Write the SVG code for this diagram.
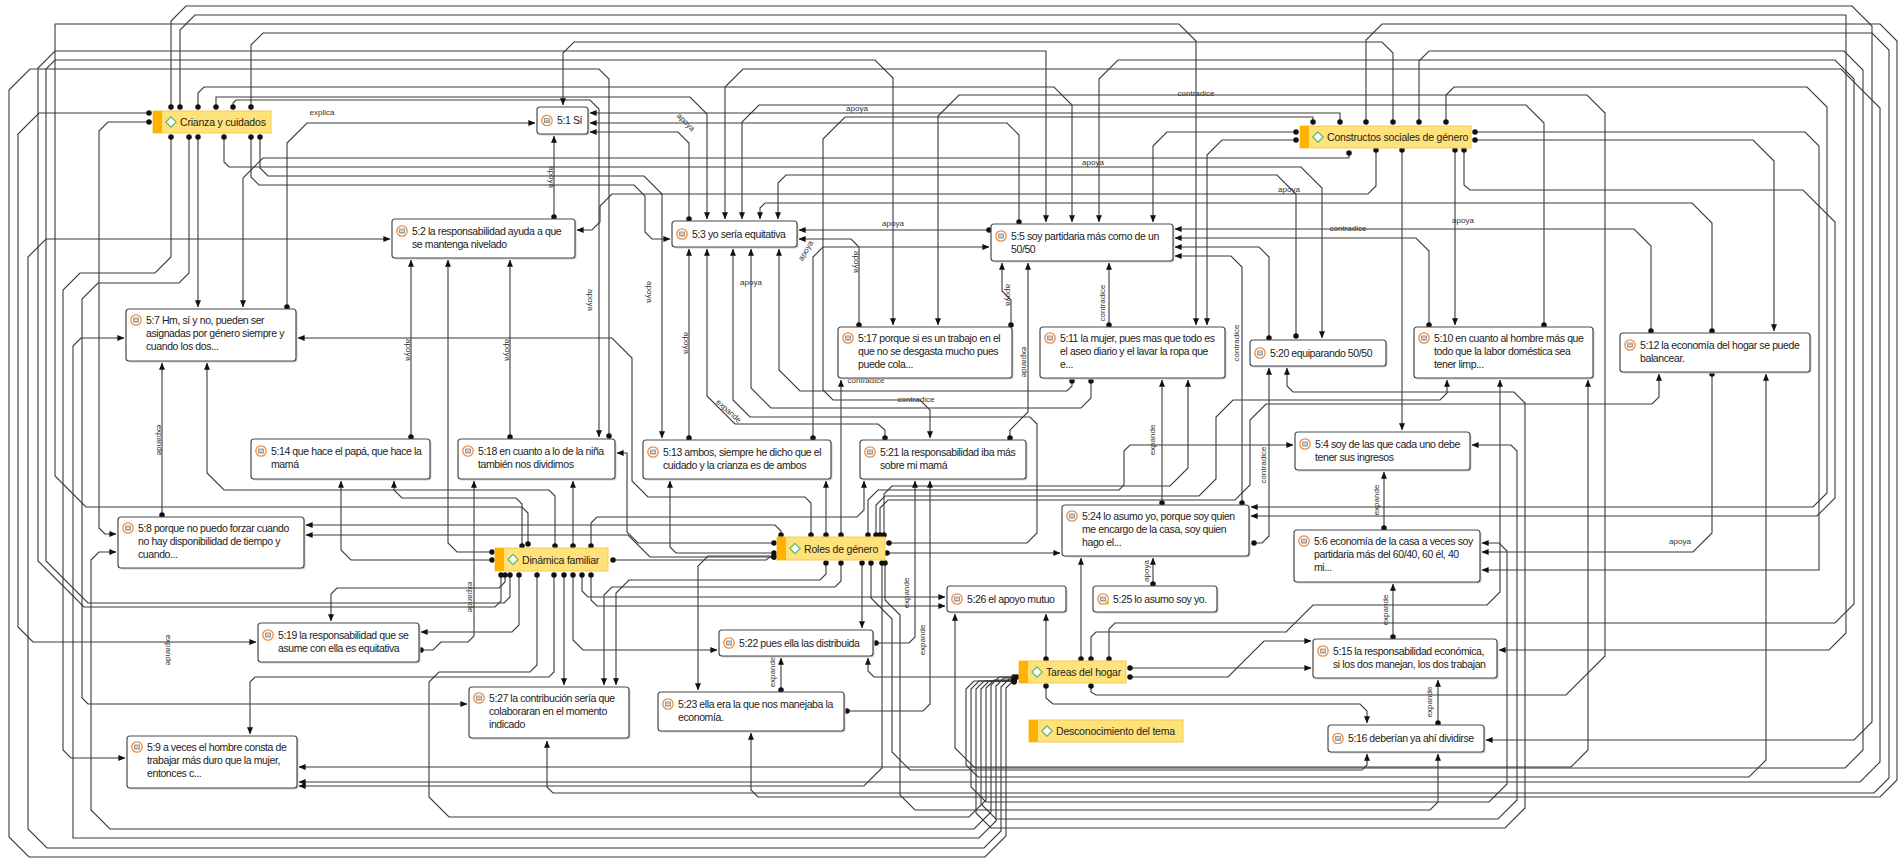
<svg xmlns="http://www.w3.org/2000/svg" width="1904" height="859" viewBox="0 0 1904 859">
<style>
.c{fill:none;stroke:#3a3a3a;stroke-width:1.1}
.da{marker-start:url(#dot);marker-end:url(#arr)}
.dd{marker-start:url(#dot);marker-end:url(#dot)}
.aa{marker-start:url(#arrS);marker-end:url(#arr)}
.b{fill:#fff;stroke:#4a4a4a;stroke-width:1.2}
.sh{fill:#cfcfcf}
.cb{fill:#FFE27A;stroke:#F3CB55;stroke-width:1}
.cbar{fill:#FFB300}
.t{font-family:"Liberation Sans",Arial,sans-serif;font-size:10.5px;fill:#222;letter-spacing:-0.4px}
.ct{font-family:"Liberation Sans",Arial,sans-serif;font-size:10.5px;fill:#222;letter-spacing:-0.2px}
.lb{font-family:"Liberation Sans",Arial,sans-serif;font-size:8px;fill:#333}
</style>
<defs>
<marker id="arr" viewBox="0 0 8 8" refX="7.6" refY="4" markerWidth="7" markerHeight="7" orient="auto" markerUnits="userSpaceOnUse"><path d="M0,0.6 L8,4 L0,7.4z" fill="#111"/></marker>
<marker id="arrS" viewBox="0 0 8 8" refX="7.6" refY="4" markerWidth="7" markerHeight="7" orient="auto-start-reverse" markerUnits="userSpaceOnUse"><path d="M0,0.6 L8,4 L0,7.4z" fill="#111"/></marker>
<marker id="dot" viewBox="0 0 6 6" refX="3" refY="3" markerWidth="5.5" markerHeight="5.5" markerUnits="userSpaceOnUse"><circle cx="3" cy="3" r="3" fill="#111"/></marker>
<symbol id="qi" viewBox="0 0 12 12"><circle cx="6" cy="6" r="5.2" fill="#fff" stroke="#EE8A3C" stroke-width="1.3"/><rect x="3" y="3.6" width="6" height="4.8" rx="0.6" fill="#9a9a9a"/><path d="M4,5H8M4,6.5H8" stroke="#fff" stroke-width="0.7"/></symbol>
<symbol id="di" viewBox="0 0 12 12"><path d="M6,0.8 L11.2,6 L6,11.2 L0.8,6Z" fill="#fff" stroke="#5cb85c" stroke-width="1.2"/></symbol>
</defs>
<rect width="1904" height="859" fill="#fff"/>

<g id="connectors">
<path class="c da" d="M171,107 V21 L186,6 H1852 L1872,26 V722 L1854,740 H1486"/>
<path class="c da" d="M180,107 V30 L195,15 H1846 V633 L1829,650 H1499"/>
<path class="c da" d="M528,544 V513 L522,507 H86 L55,476 V24 H1179 L1196,41 V325"/>
<path class="c da" d="M251,107 V45 L263,33 H1872 L1889,50 V778 L1874,793 H553 L547,787 V741"/>
<path class="c da" d="M198,107 V93 L204,87 H1054 L1072,105 V222"/>
<path class="c da" d="M216,107 V97 H690 L707,114 V219"/>
<path class="c da" d="M233,107 V103 L236,100 H590 L599,109 V437"/>
<path class="c dd" d="M1014,682 H1012 L1006,688 V836 L985,857 H29 L9,837 V90 L30,69 H599 L609,79 V436"/>
<path class="c da" d="M1393,122 V53 L1382,42 H574 L563,53 V105"/>
<path class="c da" d="M1366,122 V40 L1382,24 H1880 L1897,41 V780 L1880,797 H758 L751,790 V733"/>
<path class="c da" d="M1014,679 H1009 L1001,687 V831 L984,848 H47 L28,829 V257 L46,239 H390"/>
<path class="c da" d="M1014,678 H1004 L996,686 V821 L979,838 H73 V346 L81,338 H124"/>
<path class="c da" d="M1014,677 H999 L991,685 V812 L974,829 H110 L91,810 V560 L99,552 H116"/>
<path class="c da" d="M149,113 H39 L18,134 V627 L33,642 H256"/>
<path class="c da" d="M501,575 V601 L495,607 H84 L38,561 V68 L55,51 H1046 V222"/>
<path class="c da" d="M510,575 V597 L504,603 H88 L46,561 V69 L55,60 H875 L893,78 V325"/>
<path class="c da" d="M171,137 V257 L155,273 H80 L63,290 V750 L71,758 H125"/>
<path class="c da" d="M189,137 V273 L179,283 H98 L82,299 V698 L88,704 H467"/>
<path class="c da" d="M149,122 H108 L99,131 V528 L105,534 H116"/>
<path class="c dd" d="M613,560 H766 L770,557 H774"/>
<path class="c da" d="M198,137 V307"/>
<path class="c da" d="M260,137 V168 L268,176 H644 L662,194 V438"/>
<path class="c da" d="M251,137 V177 L259,185 H634 L645,196 V232 L652,239 H670"/>
<path class="c da" d="M224,137 V162 L229,167 H1301 L1322,188 V338"/>
<path class="c da" d="M1349,153 V158 H263 L243,178 V307"/>
<path class="c da" d="M1296,336 V194 L1277,175 H786 L778,183 V219"/>
<path class="c da" d="M287,307 V143 L307,123 H535"/>
<path class="c da" d="M162,515 V363"/>
<path class="c da" d="M555,546 V496 L549,490 H224 L207,473 V363"/>
<path class="c da" d="M554,217 V136"/>
<path class="c da" d="M689,219 V143 L678,132 H590"/>
<path class="c da" d="M1019,222 V135 L1007,123 H590"/>
<path class="c da" d="M1340,122 V113 H590"/>
<path class="c da" d="M1313,122 V117 H845 L823,139 V390 L833,400 H920 L930,410 V438"/>
<path class="c da" d="M689,438 V249"/>
<path class="c da" d="M885,438 V430 L878,424 H735 L707,396 V249"/>
<path class="c da" d="M889,543 H1027 L1037,533 V424 L1030,417 H750 L733,400 V249"/>
<path class="c da" d="M1091,381 V398 L1081,408 H771 L751,388 V249"/>
<path class="c da" d="M1072,381 V386 L1067,391 H800 L779,370 V249"/>
<path class="c aa" d="M725,219 V87 L743,69 H1841 L1880,108 V762 L1860,782 H299"/>
<path class="c da" d="M989,230 H799"/>
<path class="c da" d="M859,325 V247 L851,239 H799"/>
<path class="c da" d="M813,438 V257 L823,247 H989"/>
<path class="c da" d="M1651,331 V246 L1634,229 H1175"/>
<path class="c da" d="M1429,325 V251 L1416,238 H1175"/>
<path class="c da" d="M1242,503 V267 L1231,256 H1175"/>
<path class="c da" d="M1269,338 V257 L1259,247 H1175"/>
<path class="c da" d="M1109,659 V629 L1115,623 H1835 L1854,604 V79 L1835,60 H1118 L1099,79 V222"/>
<path class="c da" d="M1296,132 H1167 L1153,146 V222"/>
<path class="c da" d="M1455,150 V325"/>
<path class="c da" d="M1544,325 V123 L1526,105 H759 L742,122 V219"/>
<path class="c da" d="M1464,150 V185 L1470,190 H1803 L1835,222 V498 L1817,516 H1251"/>
<path class="c da" d="M1446,122 V95 L1454,87 H1807 L1827,107 V493 L1813,507 H1251"/>
<path class="c da" d="M1419,122 V61 L1429,51 H1844 L1863,70 V750 L1845,768 H975 L955,748 V614"/>
<path class="c da" d="M1475,132 H1805 L1819,146 V570 H1482"/>
<path class="c da" d="M1402,150 V430"/>
<path class="c da" d="M1296,140 H1222 L1207,155 V325"/>
<path class="c da" d="M1109,325 V263"/>
<path class="c da" d="M1010,438 V430 L1028,412 V263"/>
<path class="c da" d="M1011,325 V300 L1002,291 V263"/>
<path class="c da" d="M1712,331 V223 L1692,203 H765 L760,208 V219"/>
<path class="c da" d="M1475,140 H1753 L1774,161 V331"/>
<path class="c da" d="M1376,150 V186 L1368,194 H612 L600,206 V222 L592,230 H577"/>
<path class="c da" d="M1384,528 V472"/>
<path class="c da" d="M1393,637 V584"/>
<path class="c da" d="M1438,723 V680"/>
<path class="c da" d="M1046,686 V698 L1053,704 H1360 L1367,711 V723"/>
<path class="c da" d="M1712,374 V533 L1693,552 H1482"/>
<path class="c da" d="M1254,543 H1262 L1269,536 V368"/>
<path class="c da" d="M1162,503 V380"/>
<path class="c da" d="M1153,584 V558"/>
<path class="c da" d="M1081,659 V558"/>
<path class="c da" d="M1046,659 V614"/>
<path class="c da" d="M1130,668 H1311"/>
<path class="c da" d="M1130,677 H1228 L1264,641 H1311"/>
<path class="c da" d="M1091,659 V637 L1096,632 H1286 L1313,605 H1487 L1500,592 V380"/>
<path class="c da" d="M1091,686 V692 L1096,695 H1566 L1605,656 V113 L1587,95 H959 L938,116 V325"/>
<path class="c da" d="M1014,681 H989 L981,689 V804 L996,819 H1498 L1517,800 V451 L1511,445 H1472"/>
<path class="c da" d="M1014,681 H984 L976,689 V813 L991,828 H1505 L1525,808 V403 L1514,392 H1293 L1287,386 V368"/>
<path class="c da" d="M1014,681 H979 L971,689 V787 L986,802 H1489 L1507,784 V551 L1499,543 H1482"/>
<path class="c da" d="M1014,681 H974 L966,689 V765 L978,777 H1749 L1766,760 V374"/>
<path class="c aa" d="M1588,380 V750 L1571,767 H299"/>
<path class="c da" d="M882,563 V768 L864,786 H299"/>
<path class="c da" d="M871,563 V598 L892,619 V752 L910,770 H1362 L1367,765 V754"/>
<path class="c da" d="M885,563 V600 L900,615 V795 L915,810 H1430 L1438,802 V754"/>
<path class="c da" d="M826,563 V574 L820,580 H629 L616,593 V685"/>
<path class="c da" d="M841,563 V581 L835,587 H612 L604,595 V685"/>
<path class="c da" d="M841,535 V380"/>
<path class="c da" d="M826,535 V481"/>
<path class="c da" d="M774,543 H638 L627,532 V453 H617"/>
<path class="c da" d="M811,535 V503 L805,497 H648 L632,481 V358 L612,338 H298"/>
<path class="c da" d="M781,535 V531 L775,525 H306"/>
<path class="c da" d="M774,557 H650 L628,535 H306"/>
<path class="c da" d="M774,553 H676 L670,547 V481"/>
<path class="c da" d="M591,546 V523 L597,517 H857 L864,510 V481"/>
<path class="c da" d="M868,535 V500 L878,490 H1119 L1124,485 V451 L1130,445 H1293"/>
<path class="c da" d="M876,535 V505 L885,496 H1199 L1216,479 V417 L1233,400 H1440 L1447,393 V380"/>
<path class="c da" d="M880,535 V508 L888,500 H1235 L1250,485 V420 L1266,404 H1652 L1659,397 V374"/>
<path class="c da" d="M884,535 V494 L892,486 H1170 L1188,468 V380"/>
<path class="c da" d="M887,553 H1060"/>
<path class="c da" d="M774,556 H708 L698,566 V690"/>
<path class="c da" d="M862,563 V628"/>
<path class="c da" d="M1017,677 H874 L868,671 V658"/>
<path class="c da" d="M876,643 H909 L915,637 V481"/>
<path class="c da" d="M847,711 H923 L930,704 V481"/>
<path class="c da" d="M781,690 V658"/>
<path class="c da" d="M573,546 V481"/>
<path class="c da" d="M492,560 H351 L341,550 V481"/>
<path class="c da" d="M522,546 V504 L516,498 H402 L394,490 V481"/>
<path class="c da" d="M492,552 H457 L448,543 V260"/>
<path class="c da" d="M411,437 V260"/>
<path class="c da" d="M510,437 V260"/>
<path class="c da" d="M519,575 V625 L512,632 H421"/>
<path class="c da" d="M421,650 H433 L441,642 H468 L474,636 V481"/>
<path class="c da" d="M554,575 V672 L549,677 H255 L250,682 V734"/>
<path class="c da" d="M564,575 V685"/>
<path class="c dd" d="M1014,680 H994 L986,688 V800 L969,817 H449 L429,797 V682 L439,672 H530 L537,665 V575"/>
<path class="c da" d="M573,575 V640 L583,650 H717"/>
<path class="c da" d="M582,575 V591 L588,597 H945"/>
<path class="c da" d="M591,575 V600 L597,606 H945"/>
<path class="c da" d="M505,575 V582 L499,588 H337 L331,594 V621"/>
</g>

<g id="labels">
<text class="lb" x="322" y="115" text-anchor="middle">explica</text>
<text class="lb" transform="rotate(90 549 177)" x="549" y="177" text-anchor="middle">apoya</text>
<text class="lb" transform="rotate(45 684 124)" x="684" y="124" text-anchor="middle">apoya</text>
<text class="lb" x="857" y="111" text-anchor="middle">apoya</text>
<text class="lb" x="893" y="226" text-anchor="middle">apoya</text>
<text class="lb" transform="rotate(-60 808 252)" x="808" y="252" text-anchor="middle">apoya</text>
<text class="lb" transform="rotate(90 854 262)" x="854" y="262" text-anchor="middle">apoya</text>
<text class="lb" x="751" y="285" text-anchor="middle">apoya</text>
<text class="lb" transform="rotate(90 1006 295)" x="1006" y="295" text-anchor="middle">apoya</text>
<text class="lb" x="1093" y="165" text-anchor="middle">apoya</text>
<text class="lb" x="1289" y="192" text-anchor="middle">apoya</text>
<text class="lb" x="1463" y="223" text-anchor="middle">apoya</text>
<text class="lb" x="1196" y="96" text-anchor="middle">contradice</text>
<text class="lb" x="1348" y="231" text-anchor="middle">contradice</text>
<text class="lb" transform="rotate(-90 1239 343)" x="1239" y="343" text-anchor="middle">contradice</text>
<text class="lb" transform="rotate(-90 1105 303)" x="1105" y="303" text-anchor="middle">contradice</text>
<text class="lb" x="866" y="383" text-anchor="middle">contradice</text>
<text class="lb" x="916" y="402" text-anchor="middle">contradice</text>
<text class="lb" transform="rotate(-90 1266 465)" x="1266" y="465" text-anchor="middle">contradice</text>
<text class="lb" transform="rotate(90 406 350)" x="406" y="350" text-anchor="middle">apoya</text>
<text class="lb" transform="rotate(90 505 350)" x="505" y="350" text-anchor="middle">apoya</text>
<text class="lb" transform="rotate(90 684 343)" x="684" y="343" text-anchor="middle">apoya</text>
<text class="lb" transform="rotate(90 588 300)" x="588" y="300" text-anchor="middle">apoya</text>
<text class="lb" transform="rotate(90 647 292)" x="647" y="292" text-anchor="middle">apoya</text>
<text class="lb" x="1680" y="544" text-anchor="middle">apoya</text>
<text class="lb" transform="rotate(-90 1149 571)" x="1149" y="571" text-anchor="middle">apoya</text>
<text class="lb" transform="rotate(90 157 440)" x="157" y="440" text-anchor="middle">expande</text>
<text class="lb" transform="rotate(90 166 650)" x="166" y="650" text-anchor="middle">expande</text>
<text class="lb" transform="rotate(90 468 597)" x="468" y="597" text-anchor="middle">expande</text>
<text class="lb" transform="rotate(42 727 413)" x="727" y="413" text-anchor="middle">expande</text>
<text class="lb" transform="rotate(90 1022 362)" x="1022" y="362" text-anchor="middle">expande</text>
<text class="lb" transform="rotate(-90 1155 440)" x="1155" y="440" text-anchor="middle">expande</text>
<text class="lb" transform="rotate(-90 1379 500)" x="1379" y="500" text-anchor="middle">expande</text>
<text class="lb" transform="rotate(-90 1388 610)" x="1388" y="610" text-anchor="middle">expande</text>
<text class="lb" transform="rotate(-90 1432 702)" x="1432" y="702" text-anchor="middle">expande</text>
<text class="lb" transform="rotate(-90 775 672)" x="775" y="672" text-anchor="middle">expande</text>
<text class="lb" transform="rotate(-90 909 593)" x="909" y="593" text-anchor="middle">expande</text>
<text class="lb" transform="rotate(-90 925 640)" x="925" y="640" text-anchor="middle">expande</text>
</g>

<g id="n-crianza"><rect class="cb" x="153" y="111" width="118" height="22"/><rect class="cbar" x="153" y="111" width="9" height="22"/><use href="#di" x="165" y="116" width="12" height="12"/><text class="ct" x="180" y="126">Crianza y cuidados</text></g>
<g id="n-constructos"><rect class="cb" x="1300" y="126" width="171" height="22"/><rect class="cbar" x="1300" y="126" width="9" height="22"/><use href="#di" x="1312" y="131" width="12" height="12"/><text class="ct" x="1327" y="141">Constructos sociales de género</text></g>
<g id="n-dinamica"><rect class="cb" x="495" y="548" width="113" height="23"/><rect class="cbar" x="495" y="548" width="9" height="23"/><use href="#di" x="507" y="553.5" width="12" height="12"/><text class="ct" x="522" y="563.5">Dinámica familiar</text></g>
<g id="n-roles"><rect class="cb" x="777" y="537" width="108" height="23"/><rect class="cbar" x="777" y="537" width="9" height="23"/><use href="#di" x="789" y="542.5" width="12" height="12"/><text class="ct" x="804" y="552.5">Roles de género</text></g>
<g id="n-tareas"><rect class="cb" x="1019" y="661" width="107" height="22"/><rect class="cbar" x="1019" y="661" width="9" height="22"/><use href="#di" x="1031" y="666" width="12" height="12"/><text class="ct" x="1046" y="676">Tareas del hogar</text></g>
<g id="n-desconocimiento"><rect class="cb" x="1029" y="720" width="154" height="22"/><rect class="cbar" x="1029" y="720" width="9" height="22"/><use href="#di" x="1041" y="725" width="12" height="12"/><text class="ct" x="1056" y="735">Desconocimiento del tema</text></g>

<g id="q1"><rect class="sh" x="538.5" y="108.5" width="51" height="27" rx="3"/><rect class="b" x="537" y="107" width="51" height="27" rx="3"/><use href="#qi" x="541" y="114.5" width="12" height="12"/><text class="t" x="557" y="124">5:1 Sí</text></g>
<g id="q2"><rect class="sh" x="393.5" y="220.5" width="183" height="39" rx="3"/><rect class="b" x="392" y="219" width="183" height="39" rx="3"/><use href="#qi" x="396" y="225" width="12" height="12"/><text class="t" x="412" y="234.5">5:2 la responsabilidad ayuda a que</text><text class="t" x="412" y="247.5">se mantenga nivelado</text></g>
<g id="q3"><rect class="sh" x="673.5" y="222.5" width="125" height="26" rx="3"/><rect class="b" x="672" y="221" width="125" height="26" rx="3"/><use href="#qi" x="676" y="228" width="12" height="12"/><text class="t" x="692" y="237.5">5:3 yo sería equitativa</text></g>
<g id="q4"><rect class="sh" x="1296.5" y="433.5" width="175" height="38" rx="3"/><rect class="b" x="1295" y="432" width="175" height="38" rx="3"/><use href="#qi" x="1299" y="438" width="12" height="12"/><text class="t" x="1315" y="447.5">5:4 soy de las que cada uno debe</text><text class="t" x="1315" y="460.5">tener sus ingresos</text></g>
<g id="q5"><rect class="sh" x="992.5" y="225.5" width="182" height="37" rx="3"/><rect class="b" x="991" y="224" width="182" height="37" rx="3"/><use href="#qi" x="995" y="230" width="12" height="12"/><text class="t" x="1011" y="239.5">5:5 soy partidaria más como de un</text><text class="t" x="1011" y="252.5">50/50</text></g>
<g id="q6"><rect class="sh" x="1295.5" y="531.5" width="186" height="52" rx="3"/><rect class="b" x="1294" y="530" width="186" height="52" rx="3"/><use href="#qi" x="1298" y="535" width="12" height="12"/><text class="t" x="1314" y="544.5">5:6 economía de la casa a veces soy</text><text class="t" x="1314" y="557.5">partidaria más del 60/40, 60 él, 40</text><text class="t" x="1314" y="570.5">mi...</text></g>
<g id="q7"><rect class="sh" x="127.5" y="310.5" width="170" height="52" rx="3"/><rect class="b" x="126" y="309" width="170" height="52" rx="3"/><use href="#qi" x="130" y="314" width="12" height="12"/><text class="t" x="146" y="323.5">5:7 Hm, sí y no, pueden ser</text><text class="t" x="146" y="336.5">asignadas por género siempre y</text><text class="t" x="146" y="349.5">cuando los dos...</text></g>
<g id="q8"><rect class="sh" x="119.5" y="518.5" width="186" height="51" rx="3"/><rect class="b" x="118" y="517" width="186" height="51" rx="3"/><use href="#qi" x="122" y="522" width="12" height="12"/><text class="t" x="138" y="531.5">5:8 porque no puedo forzar cuando</text><text class="t" x="138" y="544.5">no hay disponibilidad de tiempo y</text><text class="t" x="138" y="557.5">cuando...</text></g>
<g id="q9"><rect class="sh" x="128.5" y="737.5" width="170" height="52" rx="3"/><rect class="b" x="127" y="736" width="170" height="52" rx="3"/><use href="#qi" x="131" y="741" width="12" height="12"/><text class="t" x="147" y="750.5">5:9 a veces el hombre consta de</text><text class="t" x="147" y="763.5">trabajar más duro que la mujer,</text><text class="t" x="147" y="776.5">entonces c...</text></g>
<g id="q10"><rect class="sh" x="1415.5" y="328.5" width="179" height="51" rx="3"/><rect class="b" x="1414" y="327" width="179" height="51" rx="3"/><use href="#qi" x="1418" y="332" width="12" height="12"/><text class="t" x="1434" y="341.5">5:10 en cuanto al hombre más que</text><text class="t" x="1434" y="354.5">todo que la labor doméstica sea</text><text class="t" x="1434" y="367.5">tener limp...</text></g>
<g id="q11"><rect class="sh" x="1041.5" y="328.5" width="185" height="51" rx="3"/><rect class="b" x="1040" y="327" width="185" height="51" rx="3"/><use href="#qi" x="1044" y="332" width="12" height="12"/><text class="t" x="1060" y="341.5">5:11 la mujer, pues mas que todo es</text><text class="t" x="1060" y="354.5">el aseo diario y el lavar la ropa que</text><text class="t" x="1060" y="367.5">e...</text></g>
<g id="q12"><rect class="sh" x="1621.5" y="334.5" width="190" height="39" rx="3"/><rect class="b" x="1620" y="333" width="190" height="39" rx="3"/><use href="#qi" x="1624" y="339" width="12" height="12"/><text class="t" x="1640" y="348.5">5:12 la economía del hogar se puede</text><text class="t" x="1640" y="361.5">balancear.</text></g>
<g id="q13"><rect class="sh" x="644.5" y="441.5" width="188" height="39" rx="3"/><rect class="b" x="643" y="440" width="188" height="39" rx="3"/><use href="#qi" x="647" y="446" width="12" height="12"/><text class="t" x="663" y="455.5">5:13 ambos, siempre he dicho que el</text><text class="t" x="663" y="468.5">cuidado y la crianza es de ambos</text></g>
<g id="q14"><rect class="sh" x="252.5" y="440.5" width="179" height="40" rx="3"/><rect class="b" x="251" y="439" width="179" height="40" rx="3"/><use href="#qi" x="255" y="445" width="12" height="12"/><text class="t" x="271" y="454.5">5:14 que hace el papá, que hace la</text><text class="t" x="271" y="467.5">mamá</text></g>
<g id="q15"><rect class="sh" x="1314.5" y="640.5" width="184" height="39" rx="3"/><rect class="b" x="1313" y="639" width="184" height="39" rx="3"/><use href="#qi" x="1317" y="645" width="12" height="12"/><text class="t" x="1333" y="654.5">5:15 la responsabilidad económica,</text><text class="t" x="1333" y="667.5">si los dos manejan, los dos trabajan</text></g>
<g id="q16"><rect class="sh" x="1329.5" y="726.5" width="156" height="27" rx="3"/><rect class="b" x="1328" y="725" width="156" height="27" rx="3"/><use href="#qi" x="1332" y="732.5" width="12" height="12"/><text class="t" x="1348" y="742">5:16 deberían ya ahí dividirse</text></g>
<g id="q17"><rect class="sh" x="839.5" y="328.5" width="174" height="51" rx="3"/><rect class="b" x="838" y="327" width="174" height="51" rx="3"/><use href="#qi" x="842" y="332" width="12" height="12"/><text class="t" x="858" y="341.5">5:17 porque si es un trabajo en el</text><text class="t" x="858" y="354.5">que no se desgasta mucho pues</text><text class="t" x="858" y="367.5">puede cola...</text></g>
<g id="q18"><rect class="sh" x="459.5" y="440.5" width="157" height="40" rx="3"/><rect class="b" x="458" y="439" width="157" height="40" rx="3"/><use href="#qi" x="462" y="445" width="12" height="12"/><text class="t" x="478" y="454.5">5:18 en cuanto a lo de la niña</text><text class="t" x="478" y="467.5">también nos dividimos</text></g>
<g id="q19"><rect class="sh" x="259.5" y="624.5" width="161" height="39" rx="3"/><rect class="b" x="258" y="623" width="161" height="39" rx="3"/><use href="#qi" x="262" y="629" width="12" height="12"/><text class="t" x="278" y="638.5">5:19 la responsabilidad que se</text><text class="t" x="278" y="651.5">asume con ella es equitativa</text></g>
<g id="q20"><rect class="sh" x="1251.5" y="341.5" width="136" height="26" rx="3"/><rect class="b" x="1250" y="340" width="136" height="26" rx="3"/><use href="#qi" x="1254" y="347" width="12" height="12"/><text class="t" x="1270" y="356.5">5:20 equiparando 50/50</text></g>
<g id="q21"><rect class="sh" x="861.5" y="441.5" width="166" height="39" rx="3"/><rect class="b" x="860" y="440" width="166" height="39" rx="3"/><use href="#qi" x="864" y="446" width="12" height="12"/><text class="t" x="880" y="455.5">5:21 la responsabilidad iba más</text><text class="t" x="880" y="468.5">sobre mi mamá</text></g>
<g id="q22"><rect class="sh" x="720.5" y="631.5" width="154" height="26" rx="3"/><rect class="b" x="719" y="630" width="154" height="26" rx="3"/><use href="#qi" x="723" y="637" width="12" height="12"/><text class="t" x="739" y="646.5">5:22 pues ella las distribuida</text></g>
<g id="q23"><rect class="sh" x="659.5" y="693.5" width="186" height="39" rx="3"/><rect class="b" x="658" y="692" width="186" height="39" rx="3"/><use href="#qi" x="662" y="698" width="12" height="12"/><text class="t" x="678" y="707.5">5:23 ella era la que nos manejaba la</text><text class="t" x="678" y="720.5">economía.</text></g>
<g id="q24"><rect class="sh" x="1063.5" y="506.5" width="187" height="51" rx="3"/><rect class="b" x="1062" y="505" width="187" height="51" rx="3"/><use href="#qi" x="1066" y="510" width="12" height="12"/><text class="t" x="1082" y="519.5">5:24 lo asumo yo, porque soy quien</text><text class="t" x="1082" y="532.5">me encargo de la casa, soy quien</text><text class="t" x="1082" y="545.5">hago el...</text></g>
<g id="q25"><rect class="sh" x="1094.5" y="587.5" width="124" height="26" rx="3"/><rect class="b" x="1093" y="586" width="124" height="26" rx="3"/><use href="#qi" x="1097" y="593" width="12" height="12"/><circle cx="1107.5" cy="603" r="1.8" fill="#f2c200"/><text class="t" x="1113" y="602.5">5:25 lo asumo soy yo.</text></g>
<g id="q26"><rect class="sh" x="948.5" y="587.5" width="119" height="26" rx="3"/><rect class="b" x="947" y="586" width="119" height="26" rx="3"/><use href="#qi" x="951" y="593" width="12" height="12"/><text class="t" x="967" y="602.5">5:26 el apoyo mutuo</text></g>
<g id="q27"><rect class="sh" x="470.5" y="688.5" width="160" height="51" rx="3"/><rect class="b" x="469" y="687" width="160" height="51" rx="3"/><use href="#qi" x="473" y="692" width="12" height="12"/><text class="t" x="489" y="701.5">5:27 la contribución sería que</text><text class="t" x="489" y="714.5">colaboraran en el momento</text><text class="t" x="489" y="727.5">indicado</text></g>
</svg>
